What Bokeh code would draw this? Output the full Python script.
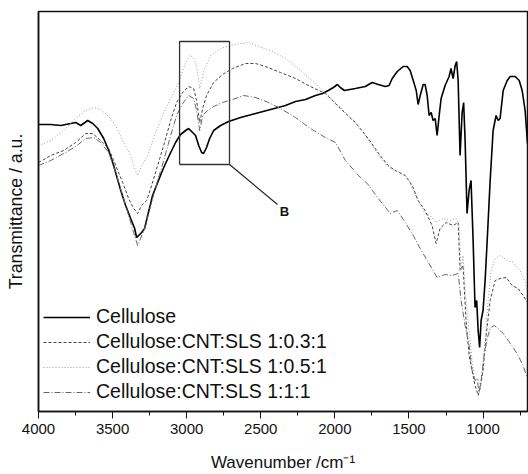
from bokeh.plotting import figure
from bokeh.models import Range1d, FixedTicker, Legend, LegendItem
from bokeh.core.properties import value
from bokeh.embed import file_html
from bokeh.resources import INLINE

# ---- data (wavenumber / cm^-1, transmittance a.u.) ----
cell_wn = [4000, 3917, 3850, 3782, 3749, 3715, 3668, 3634, 3600, 3560, 3526, 3493, 3445, 3412, 3378, 3351,
           3338, 3324, 3304, 3284, 3263, 3230, 3196, 3155, 3108, 3075, 3041, 3007, 2987, 2960, 2940, 2919,
           2899, 2886, 2866, 2845, 2818, 2771, 2717, 2636, 2535, 2434, 2333, 2266, 2198, 2131, 2084, 2044,
           2010, 1983, 1963, 1936, 1862, 1795, 1748, 1707, 1660, 1634, 1613, 1579, 1539, 1512, 1492, 1471,
           1451, 1438, 1424, 1404, 1391, 1377, 1364, 1350, 1337, 1323, 1310, 1296, 1283, 1256, 1229, 1216,
           1202, 1188, 1178, 1168, 1155, 1141, 1131, 1121, 1108, 1094, 1081, 1067, 1054, 1043, 1033, 1023,
           1013, 1000, 986, 972, 952, 932, 912, 898, 885, 864, 837, 817, 783, 756, 736, 716, 700]
cell_t = [287, 287, 286, 288, 289, 286, 291, 288, 283, 273, 261, 246, 221, 206, 193, 183,
          174, 176, 179, 183, 196, 216, 229, 244, 259, 269, 277, 281, 283, 279, 276, 266,
          259, 258, 264, 273, 281, 286, 290, 294, 298, 302, 306, 310, 312, 316, 318, 321,
          324, 327, 324, 321, 323, 325, 329, 327, 325, 326, 333, 340, 345, 345, 341, 331,
          321, 307, 316, 327, 327, 316, 296, 299, 291, 293, 276, 296, 313, 326, 335, 343,
          333, 346, 350, 331, 256, 299, 309, 271, 198, 221, 231, 171, 104, 111, 81, 64,
          91, 101, 131, 171, 231, 281, 296, 291, 293, 321, 331, 335, 335, 331, 321, 301, 268]

s03_wn = [4000, 3917, 3830, 3749, 3681, 3634, 3580, 3526, 3479, 3432, 3392, 3358, 3331, 3304, 3270, 3243,
          3196, 3155, 3108, 3068, 3027, 2987, 2953, 2933, 2912, 2892, 2866, 2818, 2758, 2690, 2603, 2535,
          2468, 2367, 2266, 2165, 2064, 1963, 1862, 1775, 1694, 1640, 1593, 1525, 1478, 1438, 1391, 1344,
          1317, 1290, 1249, 1202, 1168, 1155, 1135, 1115, 1094, 1074, 1054, 1033, 1020, 1000, 979, 952,
          918, 885, 844, 804, 763, 730, 700]
s03_t = [249, 256, 261, 269, 278, 278, 271, 263, 246, 229, 213, 203, 198, 206, 211, 223,
         246, 266, 291, 309, 319, 325, 323, 311, 289, 303, 316, 329, 337, 343, 348, 348,
         345, 339, 333, 325, 318, 303, 289, 273, 256, 246, 241, 236, 226, 211, 201, 186,
         168, 183, 189, 186, 189, 141, 146, 91, 56, 41, 26, 16, 23, 41, 76, 111,
         131, 133, 134, 126, 123, 116, 109]

s05_wn = [4000, 3917, 3830, 3749, 3681, 3627, 3580, 3526, 3479, 3432, 3378, 3351, 3331, 3304, 3263, 3209,
          3155, 3108, 3054, 3007, 2980, 2953, 2933, 2912, 2899, 2879, 2838, 2771, 2704, 2636, 2582, 2515,
          2434, 2333, 2232, 2131, 2030, 1929, 1828, 1748, 1680, 1626, 1559, 1505, 1465, 1424, 1391, 1357,
          1317, 1276, 1222, 1182, 1162, 1148, 1135, 1115, 1094, 1074, 1061, 1047, 1033, 1020, 1007, 986,
          966, 945, 918, 885, 837, 797, 750, 716, 700]
s05_t = [266, 271, 281, 293, 301, 304, 302, 295, 286, 271, 256, 243, 236, 246, 256, 279,
         299, 313, 329, 349, 356, 354, 346, 323, 331, 343, 356, 363, 366, 368, 369, 365,
         361, 353, 341, 328, 314, 299, 283, 266, 251, 243, 239, 233, 219, 206, 198, 196,
         189, 193, 191, 193, 186, 141, 156, 111, 81, 51, 36, 31, 33, 25, 36, 71,
         111, 141, 153, 156, 151, 149, 141, 129, 121]

s11_wn = [4000, 3917, 3830, 3749, 3681, 3627, 3580, 3526, 3479, 3432, 3392, 3358, 3331, 3311, 3277, 3243,
          3196, 3155, 3108, 3068, 3027, 2987, 2953, 2933, 2912, 2892, 2859, 2818, 2758, 2690, 2616, 2535,
          2447, 2367, 2266, 2165, 2064, 1996, 1929, 1841, 1781, 1707, 1626, 1579, 1525, 1471, 1424, 1377,
          1337, 1310, 1256, 1209, 1168, 1148, 1121, 1094, 1074, 1054, 1040, 1027, 1013, 993, 972, 952,
          925, 898, 864, 830, 797, 763, 730, 700]
s11_t = [246, 251, 258, 265, 273, 274, 269, 259, 239, 216, 196, 179, 166, 173, 186, 206,
         231, 251, 276, 296, 308, 316, 313, 301, 281, 296, 301, 305, 309, 312, 316, 314,
         309, 303, 294, 283, 274, 269, 251, 236, 228, 213, 198, 201, 189, 176, 163, 151,
         141, 134, 137, 136, 138, 111, 86, 66, 41, 31, 33, 19, 31, 56, 73, 83,
         86, 83, 78, 71, 64, 56, 46, 33]

labels = ["Cellulose", "Cellulose:CNT:SLS 1:0.3:1", "Cellulose:CNT:SLS 1:0.5:1", "Cellulose:CNT:SLS 1:1:1"]
x_ticks = [4000, 3500, 3000, 2500, 2000, 1500, 1000]
x_minor = [3750, 3250, 2750, 2250, 1750, 1250, 750]

# zoom box "B"
box_wn = [3048, 2711]
box_t = [247, 370]
lead_wn = [2711, 2387]
lead_t = [247, 207]
b_wn = [2340]
b_t = [200.5]

FONT = "Liberation Sans"

p = figure(width=528, height=474, output_backend="svg", toolbar_location=None,
           x_range=Range1d(4000, 700), y_range=Range1d(0, 400),
           min_border_left=38, min_border_right=1, min_border_top=11, min_border_bottom=63)
p.xgrid.visible = False
p.ygrid.visible = False
p.background_fill_color = "white"
p.border_fill_color = "white"
p.outline_line_color = "#111111"
p.outline_line_width = 1.5

r_cell = p.line(cell_wn, cell_t, line_color="#000000", line_width=1.6)
r_03 = p.line(s03_wn, s03_t, line_color="#444444", line_width=1, line_dash="3 2")
r_05 = p.line(s05_wn, s05_t, line_color="#9a9a9a", line_width=1, line_dash="1 2")
r_11 = p.line(s11_wn, s11_t, line_color="#666666", line_width=1, line_dash="6 2 1 2")

# zoom box
p.line([box_wn[0], box_wn[1], box_wn[1], box_wn[0], box_wn[0]],
       [box_t[0], box_t[0], box_t[1], box_t[1], box_t[0]], line_color="#333333", line_width=1.3)
p.line(lead_wn, lead_t, line_color="#222222", line_width=1.2)
p.text(b_wn, b_t, text=["B"], text_font=value(FONT), text_font_style="bold", text_font_size="13px",
       text_align="center", text_baseline="middle", text_color="#111111")

legend = Legend(items=[LegendItem(label=labels[0], renderers=[r_cell]),
                       LegendItem(label=labels[1], renderers=[r_03]),
                       LegendItem(label=labels[2], renderers=[r_05]),
                       LegendItem(label=labels[3], renderers=[r_11])],
                location=(5, 8), orientation="vertical")
legend.border_line_color = None
legend.background_fill_alpha = 0
legend.padding = 0
legend.margin = 0
legend.spacing = 2
legend.label_height = 22
legend.glyph_height = 22
legend.glyph_width = 47
legend.label_standoff = 6
legend.label_text_font = FONT
legend.label_text_font_size = "19.5px"
legend.label_text_color = "#111111"
p.add_layout(legend, "center")

xa = p.xaxis[0]
xa.ticker = FixedTicker(ticks=x_ticks, minor_ticks=x_minor)
xa.axis_line_color = "#111111"
xa.axis_line_width = 1.5
xa.major_tick_in = 0
xa.major_tick_out = 7
xa.minor_tick_in = 0
xa.minor_tick_out = 4
xa.major_tick_line_color = "#111111"
xa.minor_tick_line_color = "#111111"
xa.major_label_text_font = FONT
xa.major_label_text_font_size = "15px"
xa.major_label_text_color = "#111111"
xa.axis_label = "Wavenumber /cm\u207b\u00b9"
xa.axis_label_text_font = FONT
xa.axis_label_text_font_size = "17px"
xa.axis_label_text_font_style = "normal"
xa.axis_label_text_color = "#111111"
xa.axis_label_standoff = 16

ya = p.yaxis[0]
ya.ticker = FixedTicker(ticks=[])
ya.axis_line_color = "#111111"
ya.axis_line_width = 1.5
ya.major_tick_line_color = None
ya.minor_tick_line_color = None
ya.axis_label = "Transmittance / a.u."
ya.axis_label_text_font = FONT
ya.axis_label_text_font_size = "17.7px"
ya.axis_label_text_font_style = "normal"
ya.axis_label_text_color = "#111111"
ya.axis_label_standoff = 13

open("out.html", "w").write(file_html(p, INLINE))
